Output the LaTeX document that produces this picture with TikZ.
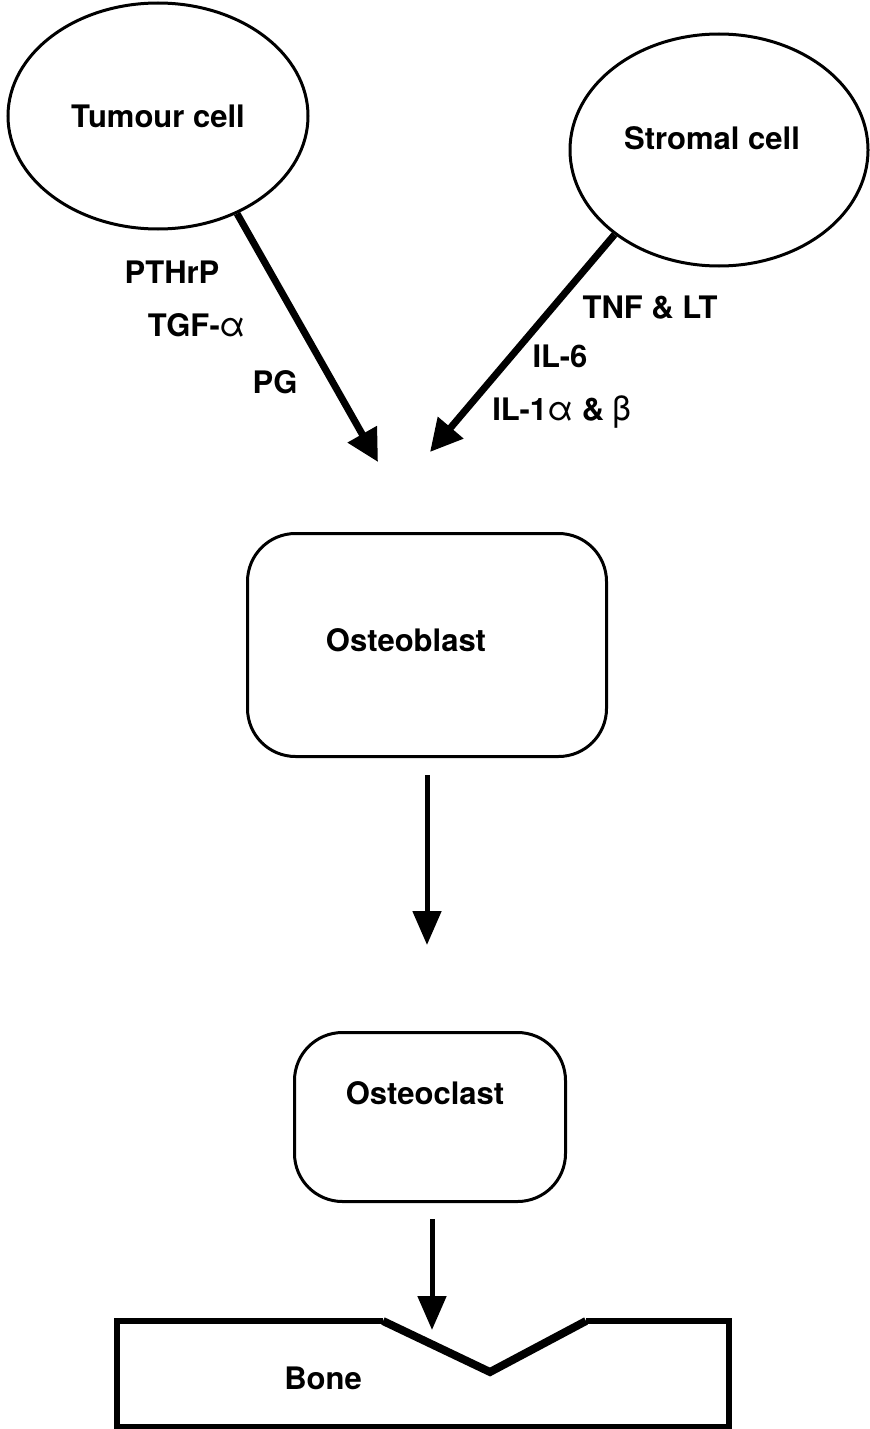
\documentclass[tikz,border=0pt]{standalone}
\usepackage{fontspec}
\setmainfont{TeX Gyre Heros}
\usetikzlibrary{arrows.meta,positioning,shapes.geometric}

\newcommand{\grk}[1]{{\mdseries\fontsize{17}{18}\selectfont #1}}

\begin{document}
\begin{tikzpicture}[
    x=0.5pt, y=-0.5pt,
    every node/.style={font=\fontsize{15.5}{18}\selectfont\bfseries},
    cell/.style={draw, ellipse, line width=1.5pt, inner sep=0pt},
    box/.style={draw, rounded corners=24pt, line width=1.5pt},
    arrow/.style={-{Triangle[length=17pt, width=14pt]}, line width=2.5pt},
    bigarrow/.style={-{Triangle[length=16pt, width=16pt]}, line width=3.5pt},
    bone/.style={line width=2.8pt, line join=miter},
    notch/.style={line width=4pt, line join=miter}
  ]
    \useasboundingbox (0,0) rectangle (869,1429);

    % cells
    \node[cell, minimum width=150pt, minimum height=113pt] (tumour) at (158,116) {Tumour cell};
    \node[cell, minimum width=149pt, minimum height=116pt] (stromal) at (719,150) {};
    \node (stromaltext) at (712,138) {Stromal cell};

    \coordinate (tumourEnd) at (378,462);
    \coordinate (stromalEnd) at (430,452);
    \draw[bigarrow] (tumour.-51) -- (tumourEnd);
    \draw[bigarrow] (stromal.-141) -- (stromalEnd);

    % factors
    \node (pthrp) at (172,272) {PTHrP};
    \node (tgf) at (197,325) {TGF-\grk{α}};
    \node (pg) at (275,382) {PG};
    \node (tnf) at (650,308) {TNF \& LT};
    \node (il6) at (560,356) {IL-6};
    \node (il1) at (562,412) {IL-1\grk{α} \& \grk{β}};

    % cells of bone
    \node[box, minimum width=179.5pt, minimum height=111.5pt] (osteoblast) at (427,645) {};
    \node (obtext) at (406,640) {Osteoblast};
    \node[box, minimum width=135.5pt, minimum height=84.5pt] (osteoclast) at (430,1117) {};
    \node (octext) at (425,1093) {Osteoclast};

    \draw[arrow, shorten <=8.5pt, shorten >=43pt] (osteoblast.south) -- (osteoblast.south |- osteoclast.north);

    % bone with resorption pit
    \coordinate (notchTip) at (432,1330);
    \draw[bone] (383,1321) -| (117,1427) -| (729,1321) -- (586,1321);
    \draw[notch] (383,1321) -- (490,1372) -- (586,1321);
    \node (bonetext) at (323,1378) {Bone};

    \draw[arrow, shorten <=8pt] (osteoclast.south -| notchTip) -- (notchTip);
\end{tikzpicture}
\end{document}
